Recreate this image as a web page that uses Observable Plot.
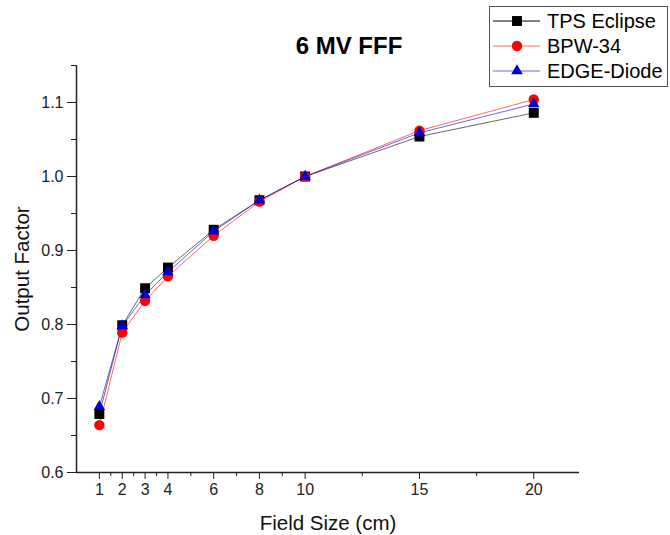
<!DOCTYPE html>
<html>
<head>
<meta charset="utf-8">
<script src="https://cdn.jsdelivr.net/npm/d3@7"></script>
<script src="https://cdn.jsdelivr.net/npm/@observablehq/plot@0.6"></script>
<style>
  body { margin: 0; background: #fff; }
  #wrap { position: relative; width: 670px; height: 535px; font-family: "Liberation Sans", Arial, sans-serif; }
  #legend { position: absolute; left: 489px; top: 6px; }
</style>
</head>
<body>
<div id="wrap"></div>
<script>
const fieldSizes = [1, 2, 3, 4, 6, 8, 10, 15, 20];
const tpsEclipse = [0.679, 0.799, 0.849, 0.877, 0.928, 0.968, 1.000, 1.054, 1.086];
const bpw34      = [0.664, 0.789, 0.832, 0.865, 0.920, 0.966, 1.000, 1.062, 1.104];
const edgeDiode  = [0.689, 0.798, 0.840, 0.871, 0.926, 0.968, 1.000, 1.059, 1.098];

const seriesNames = ["TPS Eclipse", "BPW-34", "EDGE-Diode"];
const seriesColors = ["#000000", "#ff0000", "#0000d0"];
const seriesSymbols = ["square", "circle", "triangle"];
const seriesR = [5.6, 5.2, 4.3];

const xMajor = [1, 2, 3, 4, 6, 8, 10, 15, 20];
const xMinor = [1.5, 2.5, 3.5, 5, 7, 9, 12.5, 17.5];
const yMajor = [0.6, 0.7, 0.8, 0.9, 1.0, 1.1];
const yMinor = [0.65, 0.75, 0.85, 0.95, 1.05, 1.15];

const title = "6 MV FFF";
const xLabel = "Field Size (cm)";
const yLabel = "Output Factor";

const allSeries = [tpsEclipse, bpw34, edgeDiode];
const rows = allSeries.flatMap((vals, i) =>
  fieldSizes.map((x, j) => ({ x, y: vals[j], s: seriesNames[i] })));

const font = "Liberation Sans, Arial, sans-serif";

const marks = [
  Plot.ruleX([0], { y1: 0.6, y2: 1.15, stroke: "#222", strokeWidth: 1.5 }),
  Plot.ruleY([0.6], { x1: 0, x2: 22, stroke: "#222", strokeWidth: 1.5 }),
  Plot.axisX(xMajor, { tickSize: 7, tickPadding: 4, fontSize: 16, label: null, tickFormat: d => String(d), stroke: "#222", fill: "#222" }),
  Plot.axisX(xMinor, { tickSize: 4, label: null, tickFormat: () => "", stroke: "#222" }),
  Plot.axisY(yMajor, { tickSize: 9, tickPadding: 4, fontSize: 16, label: null, tickFormat: d => d.toFixed(1), stroke: "#222", fill: "#222" }),
  Plot.axisY(yMinor, { tickSize: 5, label: null, tickFormat: () => "", stroke: "#222" }),
];

seriesNames.forEach((name, i) => {
  const d = rows.filter(r => r.s === name);
  marks.push(Plot.line(d, { x: "x", y: "y", stroke: seriesColors[i], strokeWidth: 0.8, strokeOpacity: 0.75 }));
});
seriesNames.forEach((name, i) => {
  const d = rows.filter(r => r.s === name);
  marks.push(Plot.dot(d, { x: "x", y: "y", symbol: () => seriesSymbols[i], r: seriesR[i], fill: seriesColors[i], stroke: "none" }));
});

marks.push(
  Plot.text([title], { frameAnchor: "top", lineAnchor: "middle", textAnchor: "middle", dy: -19, dx: 21, fontSize: 24, fontWeight: "bold", fill: "#000" }),
  Plot.text([xLabel], { frameAnchor: "bottom", lineAnchor: "middle", textAnchor: "middle", dy: 51, fontSize: 20.5, fill: "#111" }),
  Plot.text([yLabel], { frameAnchor: "left", lineAnchor: "middle", textAnchor: "middle", dx: -54, rotate: -90, fontSize: 20.5, fill: "#111" })
);

const chart = Plot.plot({
  width: 670,
  height: 535,
  marginLeft: 76,
  marginRight: 91,
  marginTop: 65,
  marginBottom: 63,
  style: { fontFamily: font, background: "#fff", overflow: "visible" },
  x: { domain: [0, 22], axis: null },
  y: { domain: [0.6, 1.15], axis: null },
  symbol: { type: "identity" },
  marks
});

const wrap = document.getElementById("wrap");
wrap.appendChild(chart);

// Legend
const legend = d3.select(wrap).append("div").attr("id", "legend");
const lw = 179, lh = 81;
const lsvg = legend.append("svg").attr("width", lw).attr("height", lh).style("overflow", "visible");
lsvg.append("rect").attr("x", 0.5).attr("y", 0.5).attr("width", lw - 1).attr("height", lh - 1)
  .attr("fill", "#fff").attr("stroke", "#555").attr("stroke-width", 1);
const symTypes = { square: d3.symbolSquare, circle: d3.symbolCircle, triangle: d3.symbolTriangle };
seriesNames.forEach((name, i) => {
  const cy = 15 + i * 25;
  const g = lsvg.append("g");
  g.append("line").attr("x1", 4).attr("x2", 51).attr("y1", cy).attr("y2", cy)
    .attr("stroke", seriesColors[i]).attr("stroke-width", 1).attr("stroke-opacity", i === 0 ? 1 : 0.6);
  g.append("path").attr("transform", `translate(28,${cy})`)
    .attr("d", d3.symbol(symTypes[seriesSymbols[i]], Math.PI * seriesR[i] * seriesR[i])())
    .attr("fill", seriesColors[i]);
  g.append("text").attr("x", 58).attr("y", cy).attr("dy", "0.35em")
    .attr("font-family", font).attr("font-size", 20).attr("fill", "#000").text(name);
});
</script>
</body>
</html>
